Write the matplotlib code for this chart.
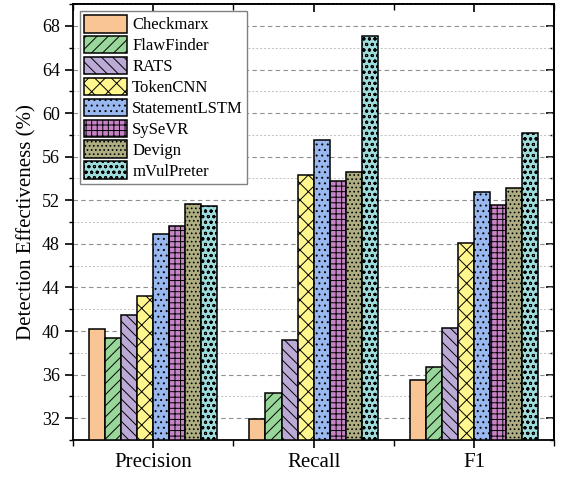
import matplotlib
matplotlib.use("Agg")
import matplotlib.pyplot as plt
import numpy as np
from matplotlib.ticker import MultipleLocator, FixedLocator

categories = ["Precision", "Recall", "F1"]
methods = ["Checkmarx", "FlawFinder", "RATS", "TokenCNN", "StatementLSTM",
           "SySeVR", "Devign", "mVulPreter"]
checkmarx = [40.2, 31.9, 35.5]
flawfinder = [39.4, 34.3, 36.7]
rats = [41.5, 39.2, 40.3]
tokencnn = [43.2, 54.3, 48.1]
statementlstm = [48.9, 57.5, 52.8]
sysevr = [49.6, 53.8, 51.6]
devign = [51.7, 54.6, 53.1]
mvulpreter = [51.5, 67.1, 58.2]
values = [checkmarx, flawfinder, rats, tokencnn, statementlstm, sysevr, devign, mvulpreter]

colors = ["#F9C594", "#99D69A", "#BCAAD6", "#FFF68E", "#99B8F0",
          "#C684C6", "#AEAE82", "#9EDCDC"]
hatches = [None, "///", "\\\\\\", "xx", "...", "+++", "....", "ooo"]

plt.rcParams["font.family"] = ["Liberation Serif", "DejaVu Serif"]
plt.rcParams["hatch.linewidth"] = 0.7

fig = plt.figure(figsize=(5.62, 4.79), dpi=100)
ax = fig.add_axes([0.130, 0.0814, 0.856, 0.910])

x = np.arange(len(categories))
w = 0.1
for i, (m, v) in enumerate(zip(methods, values)):
    ax.bar(x + (i - 3.5) * w, np.array(v) - 30, w, bottom=30, color=colors[i],
           edgecolor="black", linewidth=1.1, hatch=hatches[i], label=m, zorder=3)

ax.set_xlim(-0.5, 2.5)
ax.set_ylim(30, 70)
ax.set_xticks(x)
ax.set_xticklabels(categories, fontsize=15)
ax.xaxis.set_minor_locator(FixedLocator([-0.5, 0.5, 1.5, 2.5]))
ax.yaxis.set_major_locator(FixedLocator(np.arange(32, 69, 4)))
ax.yaxis.set_minor_locator(MultipleLocator(2))
ax.tick_params(axis="y", labelsize=13)
ax.set_ylabel("Detection Effectiveness (%)", fontsize=15, labelpad=4)

ax.grid(axis="y", which="major", linestyle=(0, (4, 3)), color="#909090", linewidth=0.8, zorder=0)
ax.grid(axis="y", which="minor", linestyle=(0, (2, 2)), color="#c0c0c0", linewidth=0.7, zorder=0)

ax.tick_params(which="major", direction="out", length=6, width=1.2, top=False, right=False)
ax.tick_params(which="minor", direction="out", length=3, width=1.0, top=False, right=False)
ax.tick_params(axis="x", which="minor", length=4)
sec_top = ax.secondary_xaxis("top")
sec_top.set_xticks(x)
sec_top.xaxis.set_minor_locator(FixedLocator([-0.5, 0.5, 1.5, 2.5]))
sec_top.tick_params(which="major", direction="in", length=6, width=1.2, labeltop=False)
sec_top.tick_params(which="minor", direction="in", length=4, width=1.0)
sec_right = ax.secondary_yaxis("right")
sec_right.yaxis.set_major_locator(FixedLocator(np.arange(32, 69, 4)))
sec_right.yaxis.set_minor_locator(MultipleLocator(2))
sec_right.tick_params(which="major", direction="in", length=6, width=1.2, labelright=False)
sec_right.tick_params(which="minor", direction="in", length=3, width=1.0)
for s in list(ax.spines.values()) + [sec_top.spines["top"], sec_right.spines["right"]]:
    s.set_linewidth(1.3)

leg = ax.legend(loc="upper left", fontsize=12, handlelength=2.6, handleheight=1.25,
                labelspacing=0.15, handletextpad=0.3, borderpad=0.25, borderaxespad=0.4,
                fancybox=False, framealpha=1, edgecolor="#808080")
leg.get_frame().set_linewidth(1.0)

fig.savefig("out.png", dpi=100)
